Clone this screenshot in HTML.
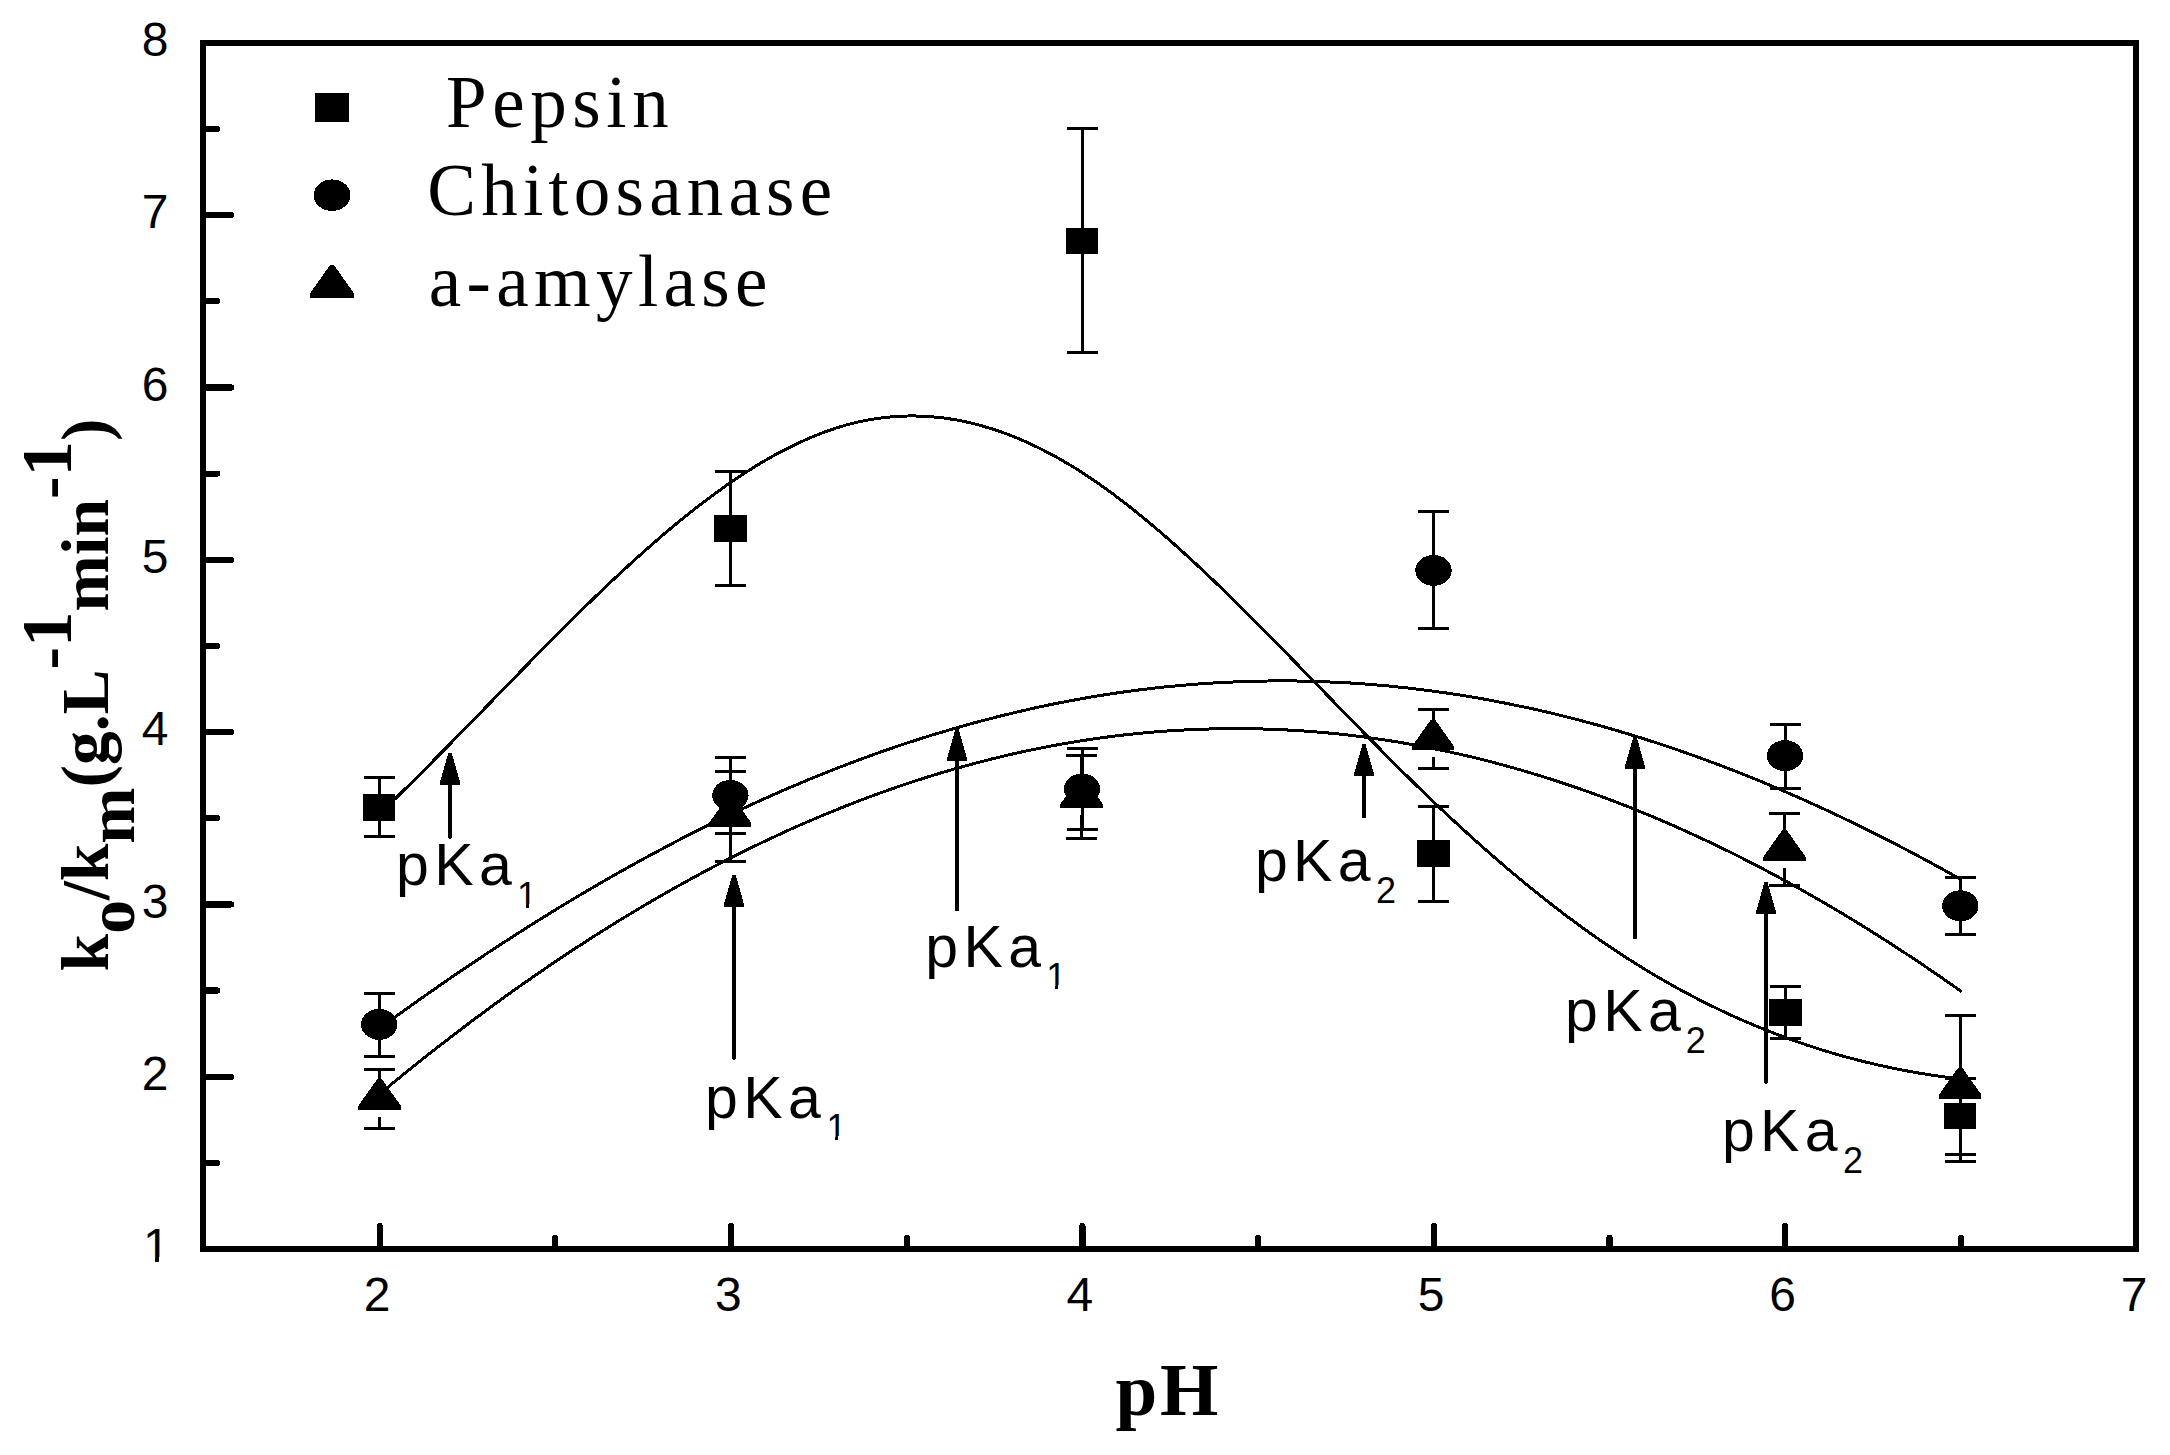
<!DOCTYPE html>
<html lang="en">
<head>
<meta charset="utf-8">
<title>k0/km vs pH</title>
<style>
html,body{margin:0;padding:0;background:#fff;}
body{width:2170px;height:1455px;overflow:hidden;}
svg{display:block;}
text{white-space:pre;}
</style>
</head>
<body>
<svg width="2170" height="1455" viewBox="0 0 2170 1455" shape-rendering="crispEdges">
<rect width="2170" height="1455" fill="#fff"/>
<rect x="203.0" y="42.9" width="1933.2" height="1206.2" fill="none" stroke="#000" stroke-width="6.2"/>
<path d="M205.1 1162.8H217.1M205.1 1076.7H231.1M205.1 990.5H217.1M205.1 904.4H231.1M205.1 818.2H217.1M205.1 732.1H231.1M205.1 645.9H217.1M205.1 559.8H231.1M205.1 473.6H217.1M205.1 387.5H231.1M205.1 301.3H217.1M205.1 215.2H231.1M205.1 129.0H217.1" stroke="#000" stroke-width="6.2" stroke-linecap="round" fill="none"/>
<path d="M379.6 1247.0V1226.0M555.3 1247.0V1238.0M731.0 1247.0V1226.0M906.7 1247.0V1238.0M1082.4 1247.0V1226.0M1258.1 1247.0V1238.0M1433.8 1247.0V1226.0M1609.5 1247.0V1238.0M1785.2 1247.0V1226.0M1960.9 1247.0V1238.0" stroke="#000" stroke-width="6.2" stroke-linecap="round" fill="none"/>
<g font-family="'Liberation Sans', sans-serif" font-size="48" fill="#000">
<text x="169.7" y="1262.2" text-anchor="end">1</text>
<text x="168.4" y="1089.9" text-anchor="end">2</text>
<text x="168.4" y="917.6" text-anchor="end">3</text>
<text x="168.4" y="745.3" text-anchor="end">4</text>
<text x="168.4" y="573.0" text-anchor="end">5</text>
<text x="168.4" y="400.7" text-anchor="end">6</text>
<text x="168.4" y="228.4" text-anchor="end">7</text>
<text x="168.4" y="56.1" text-anchor="end">8</text>
<text x="377.0" y="1310.6" text-anchor="middle">2</text>
<text x="728.4" y="1310.6" text-anchor="middle">3</text>
<text x="1079.8" y="1310.6" text-anchor="middle">4</text>
<text x="1431.2" y="1310.6" text-anchor="middle">5</text>
<text x="1782.6" y="1310.6" text-anchor="middle">6</text>
<text x="2134.0" y="1310.6" text-anchor="middle">7</text>
</g>
<text x="1115.4" y="1414.8" font-family="'Liberation Serif', serif" font-weight="bold" font-size="75" letter-spacing="3" fill="#000">pH</text>
<text transform="translate(107.8 971.4) rotate(-90)" font-family="'Liberation Serif', serif" font-weight="bold" font-size="67.5" fill="#000">k<tspan dy="26">o</tspan><tspan dy="-26">/k</tspan><tspan dy="26">m</tspan><tspan dy="-26">(g.L</tspan><tspan dy="-37">-<tspan font-size="71">1</tspan></tspan><tspan dy="37">min</tspan><tspan dy="-37">-<tspan font-size="71">1</tspan></tspan><tspan dy="37">)</tspan></text>
<g fill="none" stroke="#000" stroke-width="3.0" stroke-linecap="round" stroke-linejoin="round">
<path d="M379.6 813.8C383.6 809.9 395.6 798.4 403.6 790.5C411.6 782.7 419.6 774.7 427.6 766.6C435.6 758.6 443.6 750.5 451.6 742.3C459.6 734.2 467.6 726.0 475.6 717.8C483.6 709.6 491.6 701.3 499.6 693.1C507.6 684.9 515.6 676.6 523.6 668.4C531.6 660.3 539.6 652.1 547.6 644.0C555.6 636.0 563.6 627.9 571.6 620.0C579.6 612.1 587.6 604.2 595.6 596.5C603.6 588.8 611.6 581.2 619.6 573.8C627.6 566.3 635.6 559.0 643.6 551.9C651.6 544.8 659.6 537.8 667.6 531.0C675.6 524.3 683.6 517.7 691.6 511.4C699.6 505.1 707.6 499.0 715.6 493.2C723.6 487.3 731.6 481.7 739.6 476.4C747.6 471.2 755.6 466.1 763.6 461.4C771.6 456.7 779.6 452.3 787.6 448.3C795.6 444.2 803.6 440.5 811.6 437.2C819.6 433.8 827.6 430.8 835.6 428.2C843.6 425.6 851.6 423.4 859.6 421.7C867.6 419.9 875.6 418.5 883.6 417.6C891.6 416.6 899.6 416.1 907.6 416.0C915.6 415.8 923.6 416.1 931.6 416.7C939.6 417.4 947.6 418.4 955.6 419.8C963.6 421.2 971.6 423.1 979.6 425.2C987.6 427.4 995.6 429.9 1003.6 432.8C1011.6 435.7 1019.6 439.0 1027.6 442.6C1035.6 446.2 1043.6 450.2 1051.6 454.5C1059.6 458.8 1067.6 463.5 1075.6 468.4C1083.6 473.4 1091.6 478.7 1099.6 484.3C1107.6 489.9 1115.6 495.8 1123.6 502.0C1131.6 508.2 1139.6 514.6 1147.6 521.3C1155.6 527.9 1163.6 534.8 1171.6 541.9C1179.6 548.9 1187.6 556.2 1195.6 563.7C1203.6 571.1 1211.6 578.7 1219.6 586.4C1227.6 594.2 1235.6 602.0 1243.6 610.0C1251.6 617.9 1259.6 626.0 1267.6 634.1C1275.6 642.2 1283.6 650.3 1291.6 658.5C1299.6 666.7 1307.6 675.0 1315.6 683.2C1323.6 691.4 1331.6 699.7 1339.6 707.9C1347.6 716.1 1355.6 724.4 1363.6 732.5C1371.6 740.7 1379.6 748.8 1387.6 756.8C1395.6 764.8 1403.6 772.8 1411.6 780.6C1419.6 788.5 1427.6 796.2 1435.6 803.8C1443.6 811.4 1451.6 818.9 1459.6 826.2C1467.6 833.6 1475.6 840.8 1483.6 847.9C1491.6 855.0 1499.6 861.9 1507.6 868.7C1515.6 875.5 1523.6 882.1 1531.6 888.6C1539.6 895.1 1547.6 901.4 1555.6 907.6C1563.6 913.8 1571.6 919.8 1579.6 925.6C1587.6 931.5 1595.6 937.1 1603.6 942.6C1611.6 948.1 1619.6 953.4 1627.6 958.5C1635.6 963.6 1643.6 968.6 1651.6 973.4C1659.6 978.1 1667.6 982.7 1675.6 987.2C1683.6 991.6 1691.6 995.8 1699.6 999.9C1707.6 1004.0 1715.6 1007.9 1723.6 1011.7C1731.6 1015.5 1739.6 1019.1 1747.6 1022.5C1755.6 1025.9 1763.6 1029.2 1771.6 1032.3C1779.6 1035.4 1787.6 1038.4 1795.6 1041.2C1803.6 1044.0 1811.6 1046.7 1819.6 1049.2C1827.6 1051.7 1835.6 1054.1 1843.6 1056.3C1851.6 1058.5 1859.6 1060.6 1867.6 1062.5C1875.6 1064.5 1883.6 1066.3 1891.6 1067.9C1899.6 1069.6 1907.6 1071.1 1915.6 1072.5C1923.6 1073.9 1932.2 1075.2 1939.6 1076.3C1947.0 1077.3 1956.5 1078.4 1959.9 1078.8"/>
<path d="M379.6 1028.3C383.6 1025.4 395.6 1016.6 403.6 1010.9C411.6 1005.2 419.6 999.5 427.6 993.9C435.6 988.3 443.6 982.7 451.6 977.2C459.6 971.7 467.6 966.3 475.6 961.0C483.6 955.6 491.6 950.3 499.6 945.1C507.6 939.9 515.6 934.8 523.6 929.7C531.6 924.6 539.6 919.6 547.6 914.7C555.6 909.7 563.6 904.8 571.6 900.0C579.6 895.3 587.6 890.5 595.6 885.9C603.6 881.2 611.6 876.6 619.6 872.1C627.6 867.6 635.6 863.2 643.6 858.8C651.6 854.5 659.6 850.2 667.6 846.0C675.6 841.7 683.6 837.6 691.6 833.5C699.6 829.5 707.6 825.5 715.6 821.6C723.6 817.7 731.6 813.8 739.6 810.1C747.6 806.3 755.6 802.7 763.6 799.1C771.6 795.5 779.6 791.9 787.6 788.5C795.6 785.1 803.6 781.7 811.6 778.4C819.6 775.1 827.6 771.9 835.6 768.8C843.6 765.7 851.6 762.6 859.6 759.7C867.6 756.7 875.6 753.8 883.6 751.0C891.6 748.2 899.6 745.5 907.6 742.9C915.6 740.2 923.6 737.7 931.6 735.2C939.6 732.8 947.6 730.4 955.6 728.1C963.6 725.8 971.6 723.5 979.6 721.4C987.6 719.3 995.6 717.2 1003.6 715.2C1011.6 713.3 1019.6 711.4 1027.6 709.6C1035.6 707.8 1043.6 706.0 1051.6 704.4C1059.6 702.8 1067.6 701.2 1075.6 699.8C1083.6 698.3 1091.6 696.9 1099.6 695.6C1107.6 694.3 1115.6 693.1 1123.6 692.0C1131.6 690.9 1139.6 689.8 1147.6 688.9C1155.6 687.9 1163.6 687.0 1171.6 686.3C1179.6 685.5 1187.6 684.8 1195.6 684.2C1203.6 683.6 1211.6 683.0 1219.6 682.6C1227.6 682.2 1235.6 681.8 1243.6 681.5C1251.6 681.3 1259.6 681.1 1267.6 681.0C1275.6 680.9 1283.6 680.9 1291.6 680.9C1299.6 681.0 1307.6 681.2 1315.6 681.4C1323.6 681.7 1331.6 682.0 1339.6 682.4C1347.6 682.8 1355.6 683.3 1363.6 683.9C1371.6 684.5 1379.6 685.2 1387.6 685.9C1395.6 686.7 1403.6 687.5 1411.6 688.4C1419.6 689.4 1427.6 690.4 1435.6 691.5C1443.6 692.6 1451.6 693.7 1459.6 695.0C1467.6 696.3 1475.6 697.6 1483.6 699.0C1491.6 700.5 1499.6 702.0 1507.6 703.6C1515.6 705.2 1523.6 706.9 1531.6 708.6C1539.6 710.4 1547.6 712.2 1555.6 714.2C1563.6 716.1 1571.6 718.1 1579.6 720.2C1587.6 722.3 1595.6 724.5 1603.6 726.7C1611.6 729.0 1619.6 731.3 1627.6 733.8C1635.6 736.2 1643.6 738.7 1651.6 741.3C1659.6 743.8 1667.6 746.5 1675.6 749.2C1683.6 752.0 1691.6 754.8 1699.6 757.7C1707.6 760.6 1715.6 763.6 1723.6 766.6C1731.6 769.7 1739.6 772.8 1747.6 776.0C1755.6 779.3 1763.6 782.5 1771.6 785.9C1779.6 789.3 1787.6 792.7 1795.6 796.2C1803.6 799.8 1811.6 803.4 1819.6 807.0C1827.6 810.7 1835.6 814.4 1843.6 818.3C1851.6 822.1 1859.6 826.0 1867.6 829.9C1875.6 833.9 1883.6 837.9 1891.6 842.1C1899.6 846.2 1907.6 850.3 1915.6 854.6C1923.6 858.9 1932.1 863.5 1939.6 867.6C1947.1 871.7 1957.0 877.3 1960.5 879.2"/>
<path d="M379.6 1094.0C383.6 1090.7 395.6 1080.8 403.6 1074.3C411.6 1067.8 419.6 1061.4 427.6 1055.1C435.6 1048.8 443.6 1042.6 451.6 1036.5C459.6 1030.3 467.6 1024.3 475.6 1018.3C483.6 1012.3 491.6 1006.4 499.6 1000.6C507.6 994.8 515.6 989.1 523.6 983.5C531.6 977.9 539.6 972.4 547.6 966.9C555.6 961.5 563.6 956.1 571.6 950.8C579.6 945.6 587.6 940.4 595.6 935.3C603.6 930.2 611.6 925.2 619.6 920.3C627.6 915.4 635.6 910.6 643.6 905.8C651.6 901.1 659.6 896.5 667.6 891.9C675.6 887.4 683.6 882.9 691.6 878.6C699.6 874.2 707.6 869.9 715.6 865.7C723.6 861.6 731.6 857.5 739.6 853.5C747.6 849.5 755.6 845.6 763.6 841.8C771.6 838.0 779.6 834.3 787.6 830.6C795.6 827.0 803.6 823.5 811.6 820.1C819.6 816.6 827.6 813.3 835.6 810.1C843.6 806.8 851.6 803.7 859.6 800.6C867.6 797.6 875.6 794.6 883.6 791.8C891.6 788.9 899.6 786.1 907.6 783.5C915.6 780.8 923.6 778.2 931.6 775.8C939.6 773.3 947.6 770.9 955.6 768.6C963.6 766.4 971.6 764.2 979.6 762.1C987.6 760.0 995.6 758.0 1003.6 756.1C1011.6 754.2 1019.6 752.4 1027.6 750.7C1035.6 749.0 1043.6 747.4 1051.6 745.9C1059.6 744.4 1067.6 743.0 1075.6 741.7C1083.6 740.4 1091.6 739.2 1099.6 738.1C1107.6 737.0 1115.6 735.9 1123.6 735.0C1131.6 734.1 1139.6 733.3 1147.6 732.6C1155.6 731.9 1163.6 731.2 1171.6 730.7C1179.6 730.2 1187.6 729.8 1195.6 729.4C1203.6 729.1 1211.6 728.9 1219.6 728.7C1227.6 728.6 1235.6 728.6 1243.6 728.6C1251.6 728.7 1259.6 728.9 1267.6 729.1C1275.6 729.4 1283.6 729.8 1291.6 730.2C1299.6 730.7 1307.6 731.2 1315.6 731.9C1323.6 732.5 1331.6 733.3 1339.6 734.1C1347.6 735.0 1355.6 735.9 1363.6 737.0C1371.6 738.0 1379.6 739.2 1387.6 740.4C1395.6 741.6 1403.6 743.0 1411.6 744.4C1419.6 745.8 1427.6 747.4 1435.6 749.0C1443.6 750.6 1451.6 752.4 1459.6 754.2C1467.6 756.0 1475.6 757.9 1483.6 759.9C1491.6 761.9 1499.6 764.1 1507.6 766.3C1515.6 768.5 1523.6 770.8 1531.6 773.2C1539.6 775.6 1547.6 778.1 1555.6 780.7C1563.6 783.3 1571.6 785.9 1579.6 788.7C1587.6 791.5 1595.6 794.4 1603.6 797.3C1611.6 800.3 1619.6 803.4 1627.6 806.5C1635.6 809.7 1643.6 813.0 1651.6 816.3C1659.6 819.6 1667.6 823.1 1675.6 826.6C1683.6 830.2 1691.6 833.8 1699.6 837.5C1707.6 841.2 1715.6 845.0 1723.6 848.9C1731.6 852.8 1739.6 856.8 1747.6 860.9C1755.6 865.0 1763.6 869.2 1771.6 873.5C1779.6 877.7 1787.6 882.1 1795.6 886.5C1803.6 891.0 1811.6 895.5 1819.6 900.2C1827.6 904.8 1835.6 909.5 1843.6 914.3C1851.6 919.1 1859.6 924.0 1867.6 929.0C1875.6 934.0 1883.6 939.1 1891.6 944.2C1899.6 949.4 1907.6 954.7 1915.6 960.0C1923.6 965.3 1932.1 971.1 1939.6 976.3C1947.1 981.4 1957.3 988.6 1960.8 991.1"/>
</g>
<path d="M364.0 777.5H395.0M364.0 836.5H395.0M379.5 777.5V807.4M379.5 807.4V836.5M715.0 471.5H746.0M715.0 585.5H746.0M730.5 471.5V528.6M730.5 528.6V585.5M1067.0 128.5H1098.0M1067.0 352.5H1098.0M1082.5 128.5V240.9M1082.5 240.9V352.5M1418.0 806.5H1449.0M1418.0 901.5H1449.0M1433.5 806.5V853.4M1433.5 853.4V901.5M1770.0 986.5H1801.0M1770.0 1038.5H1801.0M1785.5 986.5V1012.4M1785.5 1012.4V1038.5M1945.0 1078.5H1976.0M1945.0 1154.5H1976.0M1960.5 1078.5V1115.7M1960.5 1115.7V1154.5M364.0 993.5H395.0M364.0 1056.5H395.0M379.5 993.5V1024.4M379.5 1024.4V1056.5M715.0 757.5H746.0M715.0 833.5H746.0M730.5 757.5V795.4M730.5 795.4V833.5M1067.0 748.5H1098.0M1067.0 829.5H1098.0M1082.5 748.5V789.0M1082.5 789.0V829.5M1418.0 511.5H1449.0M1418.0 628.5H1449.0M1433.5 511.5V570.4M1433.5 570.4V628.5M1770.0 724.5H1801.0M1770.0 788.5H1801.0M1785.5 724.5V755.6M1785.5 755.6V788.5M1945.0 877.5H1976.0M1945.0 934.5H1976.0M1960.5 877.5V905.8M1960.5 905.8V934.5M364.0 1069.5H395.0M364.0 1128.5H395.0M379.5 1069.5V1083.6M379.5 1116.5V1128.5M715.0 771.5H746.0M715.0 861.5H746.0M730.5 771.5V800.9M730.5 833.8V861.5M1066.0 755.5H1097.0M1066.0 838.5H1097.0M1081.5 755.5V781.9M1081.5 814.8V838.5M1418.0 709.5H1449.0M1418.0 768.5H1449.0M1433.5 709.5V724.5M1433.5 757.4V768.5M1769.0 813.5H1800.0M1769.0 885.5H1800.0M1784.5 813.5V834.8M1784.5 867.7V885.5M1945.0 1015.5H1976.0M1945.0 1161.5H1976.0M1960.5 1015.5V1072.6M1960.5 1105.5V1161.5" fill="none" stroke="#000" stroke-width="3" stroke-linecap="butt"/>
<g fill="#000">
<rect x="362.9" y="794.2" width="32.4" height="26.4"/>
<rect x="714.4" y="515.4" width="32.4" height="26.4"/>
<rect x="1066.0" y="227.7" width="32.4" height="26.4"/>
<rect x="1417.3" y="840.2" width="32.4" height="26.4"/>
<rect x="1769.1" y="999.2" width="32.4" height="26.4"/>
<rect x="1943.7" y="1102.5" width="32.4" height="26.4"/>
<ellipse cx="379.2" cy="1024.4" rx="18.2" ry="15.5"/>
<ellipse cx="730.4" cy="795.4" rx="18.2" ry="15.5"/>
<ellipse cx="1082" cy="789" rx="18.2" ry="15.5"/>
<ellipse cx="1433.5" cy="570.4" rx="18.2" ry="15.5"/>
<ellipse cx="1785" cy="755.6" rx="18.2" ry="15.5"/>
<ellipse cx="1960.3" cy="905.8" rx="18.2" ry="15.5"/>
<path d="M377.6 1078.6H381.6L400.8 1105.7V1109.5H358.4V1105.7Z"/>
<path d="M728.2 795.9H732.2L751.4 823.0V826.8H709.0V823.0Z"/>
<path d="M1079.6 776.9H1083.6L1102.8 804.0V807.8H1060.4V804.0Z"/>
<path d="M1431.0 719.5H1435.0L1454.2 746.6V750.4H1411.8V746.6Z"/>
<path d="M1782.5 829.8H1786.5L1805.7 856.9V860.7H1763.3V856.9Z"/>
<path d="M1958.2 1067.6H1962.2L1981.4 1094.7V1098.5H1939.0V1094.7Z"/>
</g>
<path d="M450 783.5V836.7" stroke="#000" stroke-width="4" stroke-linecap="round" fill="none"/>
<path d="M448.4 752.5H451.6L460.1 782.5V784.5H439.9V782.5Z" fill="#000"/>
<path d="M734 905.6V1057.7" stroke="#000" stroke-width="4" stroke-linecap="round" fill="none"/>
<path d="M732.4 874.6H735.6L744.1 904.6V906.6H723.9V904.6Z" fill="#000"/>
<path d="M957 760.0V909.5" stroke="#000" stroke-width="4" stroke-linecap="round" fill="none"/>
<path d="M955.4 729H958.6L967.1 759.0V761.0H946.9V759.0Z" fill="#000"/>
<path d="M1364 775.4V816.3" stroke="#000" stroke-width="4" stroke-linecap="round" fill="none"/>
<path d="M1362.4 744.4H1365.6L1374.1 774.4V776.4H1353.9V774.4Z" fill="#000"/>
<path d="M1635 767.7V937.2" stroke="#000" stroke-width="4" stroke-linecap="round" fill="none"/>
<path d="M1633.4 736.7H1636.6L1645.1 766.7V768.7H1624.9V766.7Z" fill="#000"/>
<path d="M1766 913.3V1081.8" stroke="#000" stroke-width="4" stroke-linecap="round" fill="none"/>
<path d="M1764.4 882.3H1767.6L1776.1 912.3V914.3H1755.9V912.3Z" fill="#000"/>
<g font-family="'Liberation Sans', sans-serif" fill="#000">
<text x="396.0" y="884.9" font-size="59" letter-spacing="5.4">pKa<tspan x="517.0" y="907.8" font-size="36" letter-spacing="0">1</tspan></text>
<text x="705.1" y="1118.1" font-size="59" letter-spacing="5.4">pKa<tspan x="826.4" y="1139.6" font-size="36" letter-spacing="0">1</tspan></text>
<text x="925.2" y="967.3" font-size="59" letter-spacing="5.4">pKa<tspan x="1046.3" y="988.8" font-size="36" letter-spacing="0">1</tspan></text>
<text x="1254.9" y="881.1" font-size="59" letter-spacing="5.4">pKa<tspan x="1375.9" y="903.0" font-size="36" letter-spacing="0">2</tspan></text>
<text x="1565.0" y="1031.2" font-size="59" letter-spacing="5.4">pKa<tspan x="1685.8" y="1052.9" font-size="36" letter-spacing="0">2</tspan></text>
<text x="1721.9" y="1150.9" font-size="59" letter-spacing="5.4">pKa<tspan x="1843.0" y="1172.8" font-size="36" letter-spacing="0">2</tspan></text>
</g>
<rect x="144.5" y="1257.4" width="10.6" height="6.3" fill="#fff"/><rect x="159.0" y="1257.4" width="9.6" height="6.3" fill="#fff"/><rect x="518.1" y="904.2" width="7.9" height="5.1" fill="#fff"/><rect x="528.9" y="904.2" width="7.2" height="5.1" fill="#fff"/><rect x="827.5" y="1136.0" width="7.9" height="5.1" fill="#fff"/><rect x="838.3" y="1136.0" width="7.2" height="5.1" fill="#fff"/><rect x="1047.4" y="985.2" width="7.9" height="5.1" fill="#fff"/><rect x="1058.2" y="985.2" width="7.2" height="5.1" fill="#fff"/>
<rect x="315.1" y="92.9" width="34" height="29" fill="#000"/>
<ellipse cx="332.1" cy="195.2" rx="18.4" ry="15.8" fill="#000"/>
<path d="M330 265.1H334L354.1 293.5V297.5H309.9V293.5Z" fill="#000"/>
<g font-family="'Liberation Serif', serif" font-size="73" fill="#000">
<text x="446" y="126.9" letter-spacing="5.6">Pepsin</text>
<text x="427.3" y="215.3" letter-spacing="5.2">Chitosanase</text>
<text x="428.8" y="305.8" letter-spacing="5.35">a-amylase</text>
</g>
</svg>
</body>
</html>
